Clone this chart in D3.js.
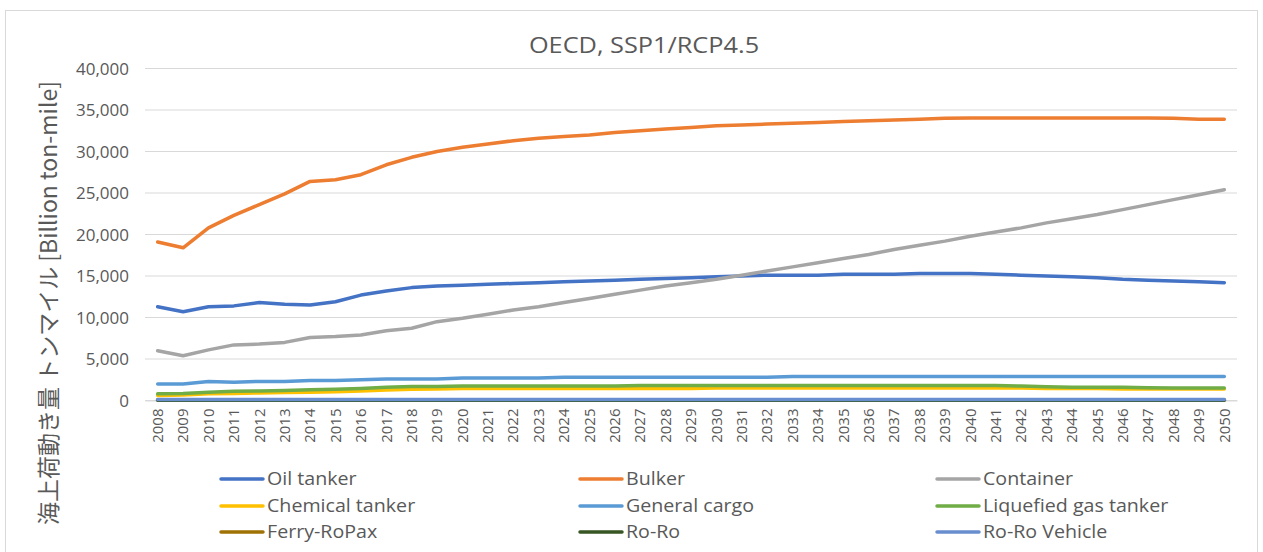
<html>
<head>
<meta charset="utf-8">
<script src="https://d3js.org/d3.v7.min.js"></script>
<style>
  body { margin: 0; background: #fff; }
  text { font-family: "Open Sans", "Noto Sans CJK JP", sans-serif; fill: #595959; }
</style>
</head>
<body>
<svg id="chart" width="1263" height="552"></svg>
<script>
const years = d3.range(2008, 2051).map(String);

const oilTanker = [11300,10700,11300,11400,11800,11600,11500,11900,12700,13200,13600,13800,13900,14000,14100,14200,14300,14400,14500,14600,14700,14800,14900,15000,15100,15100,15100,15200,15200,15200,15300,15300,15300,15200,15100,15000,14900,14800,14600,14500,14400,14300,14200];
const bulker = [19100,18400,20800,22300,23600,24900,26400,26600,27200,28400,29300,30000,30500,30900,31300,31600,31800,32000,32300,32500,32700,32900,33100,33200,33300,33400,33500,33600,33700,33800,33900,34000,34050,34050,34050,34050,34050,34050,34050,34050,34000,33900,33900];
const container = [6000,5400,6100,6700,6800,7000,7600,7700,7900,8400,8700,9500,9900,10400,10900,11300,11800,12300,12800,13300,13800,14200,14600,15100,15600,16100,16600,17100,17600,18200,18700,19200,19800,20300,20800,21400,21900,22400,23000,23600,24200,24800,25400];
const chemicalTanker = [600,650,800,850,900,950,1000,1050,1150,1250,1350,1400,1450,1450,1450,1450,1450,1450,1450,1450,1450,1450,1500,1500,1500,1500,1500,1500,1500,1500,1500,1500,1500,1500,1500,1450,1450,1450,1400,1400,1400,1400,1400];
const generalCargo = [2000,2000,2300,2200,2300,2300,2400,2400,2500,2600,2600,2600,2700,2700,2700,2700,2800,2800,2800,2800,2800,2800,2800,2800,2800,2900,2900,2900,2900,2900,2900,2900,2900,2900,2900,2900,2900,2900,2900,2900,2900,2900,2900];
const lngTanker = [800,850,1000,1100,1150,1200,1300,1350,1450,1600,1700,1700,1750,1750,1750,1750,1750,1750,1750,1800,1800,1800,1800,1800,1800,1800,1800,1800,1800,1800,1800,1800,1800,1800,1750,1650,1600,1600,1600,1550,1500,1500,1500];
const ferryRoPax = years.map(() => 80);
const roRo = years.map(() => 40);
const roRoVehicle = years.map(() => 120);

const seriesNames = ["Oil tanker","Bulker","Container","Chemical tanker","General cargo","Liquefied gas tanker","Ferry-RoPax","Ro-Ro","Ro-Ro Vehicle"];
const seriesValues = [oilTanker,bulker,container,chemicalTanker,generalCargo,lngTanker,ferryRoPax,roRo,roRoVehicle];
const seriesColors = ["#4472C4","#ED7D31","#A5A5A5","#FFC000","#5B9BD5","#70AD47","#9E7204","#375623","#698ED0"];
const yTicks = [0,5000,10000,15000,20000,25000,30000,35000,40000];

const svg = d3.select("#chart");

// widen text a bit, the source picture is stretched sideways
function stretch(sel, k) {
  sel.each(function() {
    const w = this.getComputedTextLength();
    d3.select(this).attr("textLength", w * k).attr("lengthAdjust", "spacingAndGlyphs");
  });
}

// chart border
svg.append("rect").attr("x", 5.5).attr("y", 10.5).attr("width", 1252).attr("height", 560)
  .attr("fill", "none").attr("stroke", "#d9d9d9");

const x = d3.scaleBand().domain(years).range([145, 1237]);
const y = d3.scaleLinear().domain([0, 40000]).range([400.5, 68.5]);

// gridlines
svg.append("g").selectAll("line").data(yTicks).join("line")
  .attr("x1", 145).attr("x2", 1237)
  .attr("y1", d => y(d)).attr("y2", d => y(d))
  .attr("stroke", "#d9d9d9").attr("stroke-width", 1);

// y axis labels
const yAxis = svg.append("g").attr("transform", "translate(129,0)")
  .call(d3.axisLeft(y).tickValues(yTicks).tickFormat(d3.format(",")).tickSize(0));
yAxis.select(".domain").remove();
yAxis.selectAll("text").style("font-size", "17px").attr("x", 0).attr("dy", "0.35em");

// x axis labels
const xAxis = svg.append("g").attr("transform", "translate(0,400.5)")
  .call(d3.axisBottom(x).tickSize(0));
xAxis.select(".domain").attr("stroke", "#d9d9d9");
xAxis.selectAll("text").style("font-size", "15px")
  .attr("transform", "rotate(-90)").attr("text-anchor", "end")
  .attr("x", -8).attr("y", 0).attr("dy", "0.35em");

// lines
const line = d3.line().x((d, i) => x(years[i]) + x.bandwidth() / 2).y(d => y(d));
svg.append("g").selectAll("path").data(seriesValues).join("path")
  .attr("d", d => line(d))
  .attr("fill", "none").attr("stroke", (d, i) => seriesColors[i])
  .attr("stroke-width", 3.5).attr("stroke-linejoin", "round").attr("stroke-linecap", "round");

// title
svg.append("text").attr("x", 644).attr("y", 53).attr("text-anchor", "middle")
  .style("font-size", "22px").text("OECD, SSP1/RCP4.5")
  .call(stretch, 1.15);

// y axis title
svg.append("text").attr("transform", "translate(57,303) rotate(-90)")
  .attr("text-anchor", "middle").style("font-size", "23px")
  .style("font-family", "'Noto Sans CJK JP', 'Open Sans', sans-serif")
  .text("海上荷動き量 トンマイル [Billion ton-mile]");

// legend
const legendCols = [221, 580, 937];
const legendRows = [479, 506, 532];
const leg = svg.append("g").selectAll("g").data(seriesNames).join("g")
  .attr("transform", (d, i) => `translate(${legendCols[i % 3]},${legendRows[Math.floor(i / 3)]})`);
leg.append("line").attr("x1", 0).attr("x2", 42).attr("y1", 0).attr("y2", 0)
  .attr("stroke", (d, i) => seriesColors[i]).attr("stroke-width", 3.5).attr("stroke-linecap", "round");
leg.append("text").attr("x", 46).attr("dy", "0.35em").style("font-size", "18px").text(d => d)
  .call(stretch, 1.09);
</script>
</body>
</html>
